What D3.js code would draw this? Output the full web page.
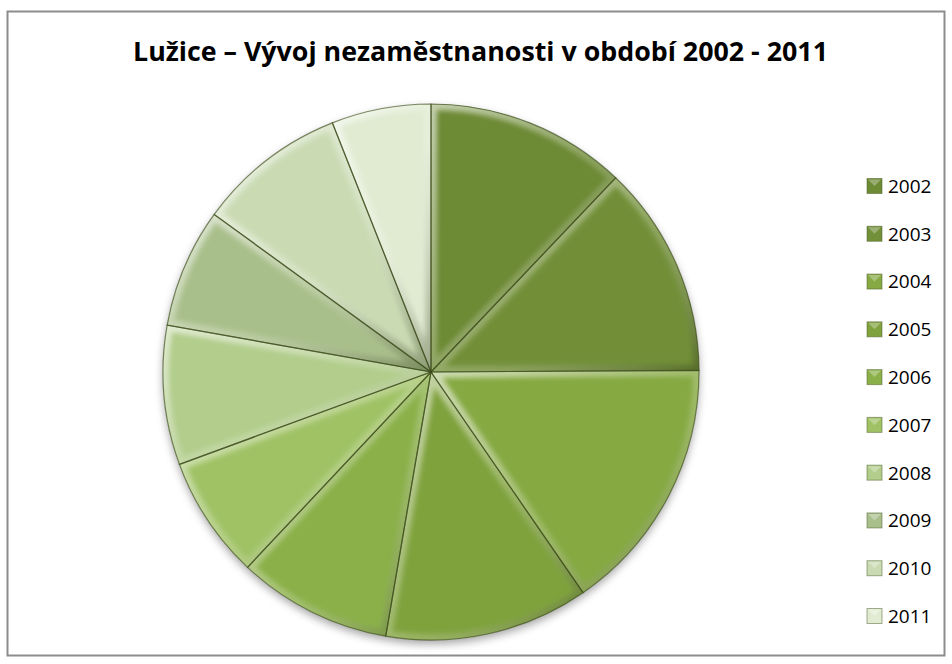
<!DOCTYPE html>
<html>
<head>
<meta charset="utf-8">
<script src="https://cdn.jsdelivr.net/npm/d3@7"></script>
<style>
  body { margin: 0; background: #fff; }
  svg { display: block; }
</style>
</head>
<body>
<svg id="chart" width="952" height="664"></svg>
<script>
// data (share of each year, %)
const years = ["2002", "2003", "2004", "2005", "2006", "2007", "2008", "2009", "2010", "2011"];
const shares = [12.1, 12.8, 15.5, 12.3, 9.3, 7.4, 8.4, 7.2, 9.0, 6.0];
const colors = ["#6d8a35", "#728f39", "#86a943", "#80a23e", "#8bb049", "#a0c265", "#b2cd8c", "#a9bf8b", "#cadbb4", "#e1ebd2"];
const title = "Lužice – Vývoj nezaměstnanosti v období 2002 - 2011";

const svg = d3.select("#chart");
const defs = svg.append("defs");

// chart frame
svg.append("rect").attr("x", 7.5).attr("y", 11.5).attr("width", 937).attr("height", 644)
    .attr("fill", "#fff").attr("stroke", "#8c8c8c").attr("stroke-width", 2);

// title
svg.append("text").attr("x", 133).attr("y", 61).attr("textLength", 695).attr("lengthAdjust", "spacingAndGlyphs")
    .style("font-family", "'Open Sans', 'DejaVu Sans', sans-serif").style("font-weight", "bold").style("font-size", "27px")
    .attr("fill", "#000").text(title);

// shadow, soft blur and bevel gradient
const shadow = defs.append("filter").attr("id", "shadow").attr("x", "-10%").attr("y", "-10%").attr("width", "120%").attr("height", "125%");
shadow.append("feDropShadow").attr("dx", 0).attr("dy", 4).attr("stdDeviation", 4).attr("flood-color", "#000").attr("flood-opacity", 0.35);

defs.append("filter").attr("id", "soft").attr("x", "-5%").attr("y", "-5%").attr("width", "110%").attr("height", "110%")
    .append("feGaussianBlur").attr("stdDeviation", 2.5);

const bevel = defs.append("linearGradient").attr("id", "bevel").attr("x1", 0).attr("y1", 0).attr("x2", 1).attr("y2", 1);
bevel.append("stop").attr("offset", "0%").attr("stop-color", "#fff").attr("stop-opacity", 0.6);
bevel.append("stop").attr("offset", "55%").attr("stop-color", "#fff").attr("stop-opacity", 0.2);
bevel.append("stop").attr("offset", "100%").attr("stop-color", "#2c3a10").attr("stop-opacity", 0.4);

// pie
const cx = 431, cy = 372, r = 268;
const pie = d3.pie().sort(null).value(d => d)(shares);
const arc = d3.arc().innerRadius(0).outerRadius(r);

const g = svg.append("g").attr("transform", `translate(${cx},${cy})`);
const body = g.append("g").attr("filter", "url(#shadow)");
body.selectAll("path.base").data(pie).join("path").attr("class", "base")
    .attr("d", arc).attr("fill", (d, i) => colors[i]);

// clip paths live in the same (translated) user space as the bevel paths
pie.forEach((d, i) => {
    defs.append("clipPath").attr("id", `clip${i}`).append("path").attr("d", arc(d));
});

g.selectAll("g.bev").data(pie).join("g").attr("class", "bev")
    .attr("clip-path", (d, i) => `url(#clip${i})`)
    .append("path")
    .attr("d", arc).attr("fill", "none").attr("filter", "url(#soft)")
    .attr("stroke", "url(#bevel)").attr("stroke-width", 12).attr("stroke-linejoin", "round");

g.selectAll("path.edge").data(pie).join("path").attr("class", "edge")
    .attr("d", arc).attr("fill", "none")
    .attr("stroke", "#3a4a18").attr("stroke-opacity", 0.65).attr("stroke-width", 1.2);

// legend
const legendY = d3.scalePoint().domain(years).range([186, 616]);
const legend = svg.append("g");
const item = legend.selectAll("g").data(years).join("g")
    .attr("transform", d => `translate(867,${legendY(d)})`);
item.append("rect").attr("x", 0).attr("y", -7.5).attr("width", 15).attr("height", 15)
    .attr("fill", (d, i) => colors[i]).attr("stroke", "#4c5e26").attr("stroke-opacity", 0.5);
item.append("path").attr("d", "M1,-6.5 L14,-6.5 L7.5,0 Z").attr("fill", "#fff").attr("opacity", 0.3);
item.append("text").attr("x", 21).attr("y", 0).attr("dy", "0.36em")
    .style("font-family", "'Open Sans', 'DejaVu Sans', sans-serif").style("font-size", "19px")
    .attr("fill", "#000").text(d => d);
</script>
</body>
</html>
